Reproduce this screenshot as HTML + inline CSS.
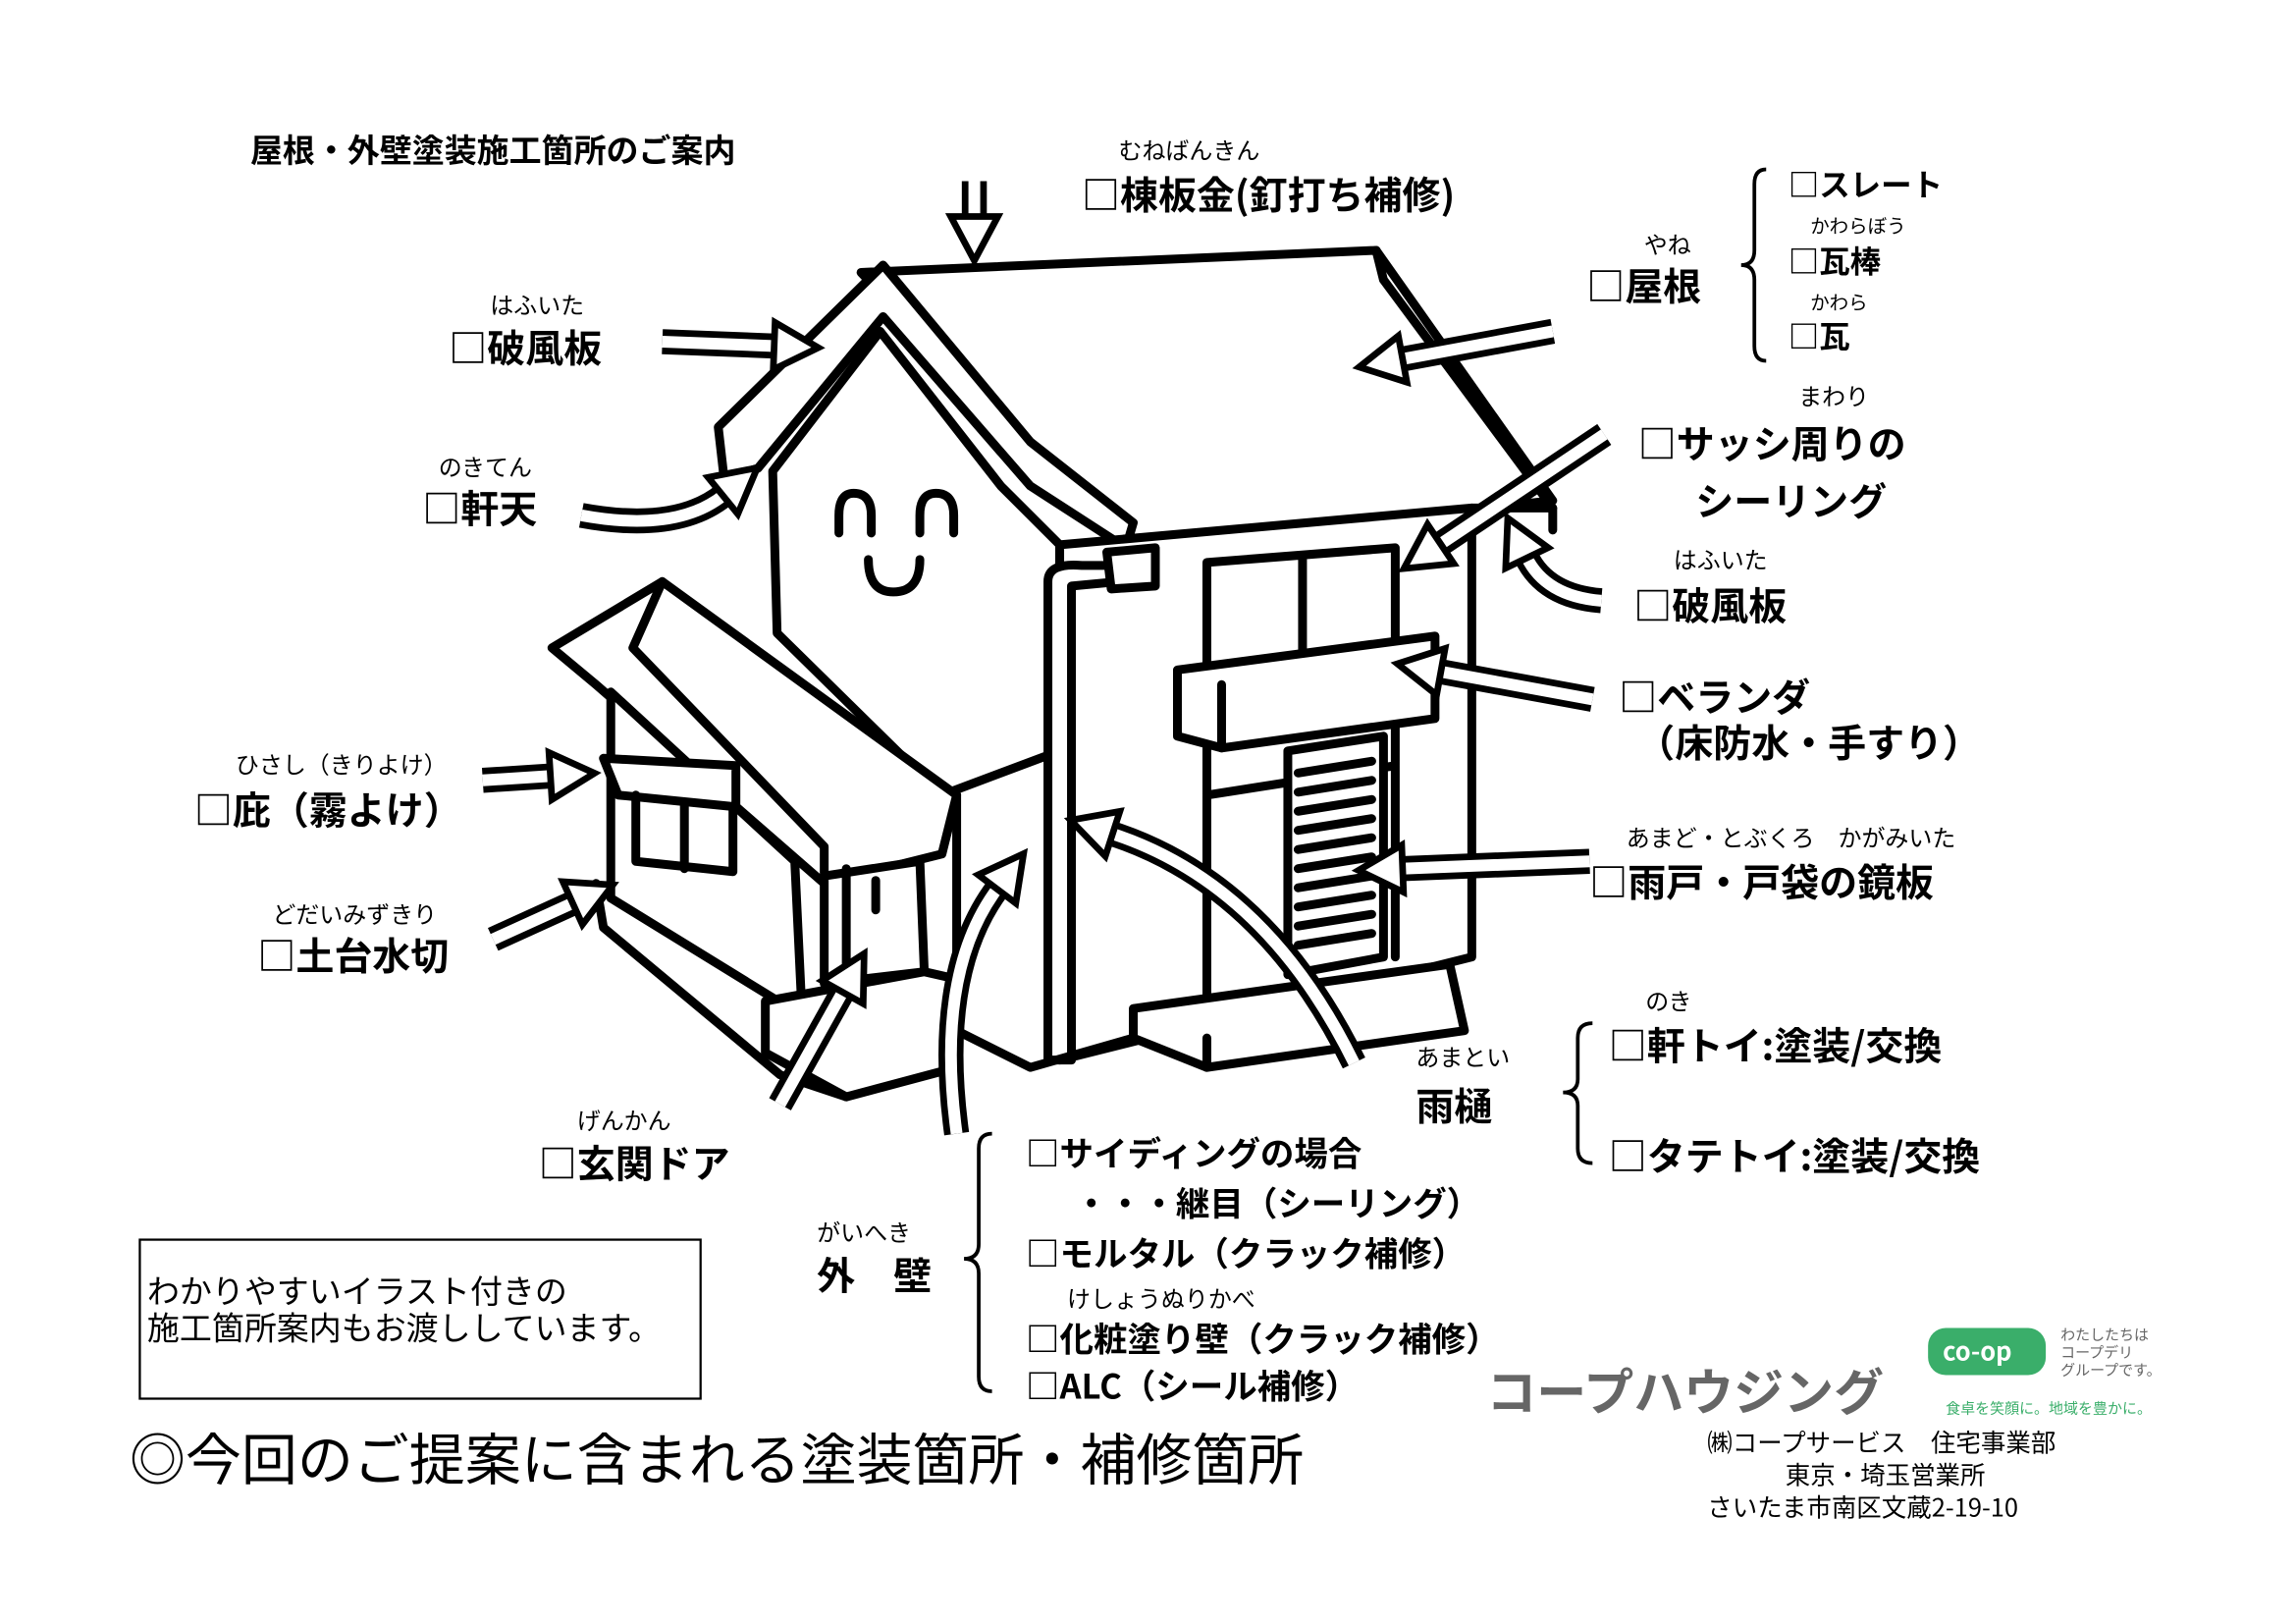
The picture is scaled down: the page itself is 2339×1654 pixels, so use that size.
<!DOCTYPE html>
<html><head><meta charset="utf-8"><style>
html,body{margin:0;padding:0;background:#fff}
svg{display:block}
text{font-family:"Noto Sans CJK JP","Liberation Sans",sans-serif;fill:#000}
.b{font-weight:bold;font-size:26px}
.r{font-size:16px}
.h{fill:none;stroke:#000;stroke-width:6;stroke-linejoin:round;stroke-linecap:round}
.hf{fill:#fff;stroke:#000;stroke-width:6;stroke-linejoin:round}
.ao{fill:none;stroke:#000;stroke-width:17;stroke-linecap:butt}
.ai{fill:none;stroke:#fff;stroke-width:8;stroke-linecap:butt}
.br{fill:none;stroke:#000;stroke-width:2.5}
</style></head><body>
<svg width="2339" height="1654" viewBox="0 0 1560 1103" xmlns="http://www.w3.org/2000/svg">
<defs>
<marker id="m" markerUnits="userSpaceOnUse" markerWidth="40" markerHeight="40" refX="1" refY="18" orient="auto" overflow="visible">
<path d="M0,2 L30,18 L0,34 Z" fill="#fff" stroke="#000" stroke-width="4.5" stroke-linejoin="miter"/>
</marker>
</defs>
<rect width="1560" height="1103" fill="#fff"/>

<!-- house -->
<path class="hf" d="M585,185 L935,170 L1055,340 L765,372 Z"/>
<path class="h" d="M935,170 L940,190 L1055,345"/>
<path class="hf" d="M600,180 L488,290 L492,325 L515,318 L600,215 L700,330 L765,372 L770,355 L700,300 Z"/>
<path class="hf" d="M598,225 L525,320 L528,430 L640,540 L720,510 L720,370 L680,330 Z"/>
<path class="hf" d="M720,370 L1000,345 L1000,650 L720,720 Z"/>
<path class="h" d="M1000,345 L1055,345 L1055,360"/>
<path class="h" d="M820,382 L948,372 L948,650 M820,382 L820,690 M885,378 L885,450 M820,540 L948,520"/>
<path class="hf" d="M800,455 L975,432 L975,488 L830,508 L800,500 Z"/>
<path class="h" d="M830,465 L830,508"/>
<path class="hf" d="M875,510 L940,500 L940,650 L875,662 Z"/>
<path class="h" d="M882,525 L932,517 M882,538 L932,530 M882,551 L932,543 M882,564 L932,556 M882,577 L932,569 M882,590 L932,582 M882,603 L932,595 M882,616 L932,608 M882,629 L932,621 M882,642 L932,634"/>
<path class="hf" d="M770,685 L985,655 L995,700 L820,725 L770,705 Z"/>
<path class="h" d="M820,705 L820,725"/>
<path class="hf" d="M712,720 L712,395 Q712,382 735,384 L760,384 L760,395 L728,398 L728,720 Z"/>
<path class="hf" d="M752,375 L785,372 L785,398 L755,400 Z"/>
<!-- annex -->
<path class="hf" d="M375,440 L450,395 L650,540 L640,580 L560,600 L405,465 Z"/>
<path class="h" d="M450,395 L430,440 L560,575 M560,575 L560,600"/>
<path class="hf" d="M415,470 L540,585 L545,690 L415,610 Z"/>
<path class="hf" d="M410,515 L500,520 L500,548 L420,540 Z"/>
<path class="h" d="M432,540 L432,585 L498,592 L498,548 M465,545 L465,590"/>
<path class="hf" d="M560,595 L625,585 L628,660 L560,668 Z"/>
<path class="h" d="M575,590 L575,668 M595,598 L595,618"/>
<path class="hf" d="M520,680 L628,660 L650,665 L650,725 L575,745 L520,715 Z"/>
<path class="h" d="M405,600 L410,630 L530,730 L575,745"/>
<path class="h" d="M650,540 L650,700 L700,725 L770,705"/>
<!-- face -->
<path class="h" d="M570,362 L570,350 Q570,335 580,335 Q592,335 592,350 L592,362"/>
<path class="h" d="M625,362 L625,350 Q625,335 636,335 Q648,335 648,350 L648,362"/>
<path class="h" d="M590,380 Q590,402 607,402 Q625,402 625,380"/>

<!-- arrows -->
<path class="ao" d="M662,123 L662,148"/><path class="ai" d="M662,123 L662,148" marker-end="url(#m)"/>
<path class="ao" d="M450,232 L527,235"/><path class="ai" d="M450,232 L527,235" marker-end="url(#m)"/>
<path class="ao" d="M1055,225 L952,244"/><path class="ai" d="M1055,225 L952,244" marker-end="url(#m)"/>
<path class="ao" d="M395,350 Q460,362 492,336"/><path class="ai" d="M395,350 Q460,362 492,336" marker-end="url(#m)"/>
<path class="ao" d="M1090,295 L978,370"/><path class="ai" d="M1090,295 L978,370" marker-end="url(#m)"/>
<path class="ao" d="M1088,408 Q1050,405 1037,378"/><path class="ai" d="M1088,408 Q1050,405 1037,378" marker-end="url(#m)"/>
<path class="ao" d="M1082,475 L978,456"/><path class="ai" d="M1082,475 L978,456" marker-end="url(#m)"/>
<path class="ao" d="M1080,585 L952,590"/><path class="ai" d="M1080,585 L952,590" marker-end="url(#m)"/>
<path class="ao" d="M328,530 L375,527"/><path class="ai" d="M328,530 L375,527" marker-end="url(#m)"/>
<path class="ao" d="M335,638 L390,613"/><path class="ai" d="M335,638 L390,613" marker-end="url(#m)"/>
<path class="ao" d="M530,750 L573,673"/><path class="ai" d="M530,750 L573,673" marker-end="url(#m)"/>
<path class="ao" d="M650,770 Q635,660 678,603"/><path class="ai" d="M650,770 Q635,660 678,603" marker-end="url(#m)"/>
<path class="ao" d="M920,722 Q860,600 755,566"/><path class="ai" d="M920,722 Q860,600 755,566" marker-end="url(#m)"/>

<!-- braces -->
<path class="br" d="M1200,115 Q1192,115 1192,125 L1192,170 Q1192,180 1183,180 Q1192,180 1192,190 L1192,235 Q1192,245 1200,245"/>
<path class="br" d="M1082,695 Q1072,695 1072,705 L1072,733 Q1072,742 1062,742 Q1072,742 1072,751 L1072,780 Q1072,790 1082,790"/>
<path class="br" d="M674,770 Q665,770 665,780 L665,845 Q665,855 655,855 Q665,855 665,865 L665,935 Q665,945 674,945"/>

<!-- text -->
<text x="170" y="110" style="font-size:22px;font-weight:bold">屋根・外壁塗装施工箇所のご案内</text>
<text x="760" y="108" class="r">むねばんきん</text>
<text x="735" y="142" class="b">□棟板金(釘打ち補修)</text>
<text x="1117" y="172" class="r">やね</text>
<text x="1078" y="204" class="b">□屋根</text>
<text x="1215" y="133" style="font-size:21px;font-weight:bold">□スレート</text>
<text x="1230" y="158" style="font-size:13px">かわらぼう</text>
<text x="1215" y="185" style="font-size:21px;font-weight:bold">□瓦棒</text>
<text x="1230" y="210" style="font-size:13px">かわら</text>
<text x="1215" y="236" style="font-size:21px;font-weight:bold">□瓦</text>
<text x="333" y="213" class="r">はふいた</text>
<text x="305" y="246" class="b">□破風板</text>
<text x="298" y="323" class="r">のきてん</text>
<text x="287" y="355" class="b">□軒天</text>
<text x="1222" y="275" class="r">まわり</text>
<text x="1113" y="311" class="b">□サッシ周りの</text>
<text x="1152" y="350" class="b">シーリング</text>
<text x="1137" y="386" class="r">はふいた</text>
<text x="1110" y="421" class="b">□破風板</text>
<text x="1100" y="483" class="b">□ベランダ</text>
<text x="1112" y="514" class="b">（床防水・手すり）</text>
<text x="1105" y="575" class="r">あまど・とぶくろ　かがみいた</text>
<text x="1080" y="609" class="b">□雨戸・戸袋の鏡板</text>
<text x="160" y="525" class="r">ひさし（きりよけ）</text>
<text x="132" y="560" class="b">□庇（霧よけ）</text>
<text x="185" y="627" class="r">どだいみずきり</text>
<text x="175" y="659" class="b">□土台水切</text>
<text x="1118" y="686" class="r">のき</text>
<text x="1093" y="720" class="b">□軒トイ:塗装/交換</text>
<text x="962" y="724" class="r">あまとい</text>
<text x="962" y="761" class="b">雨樋</text>
<text x="1093" y="795" class="b">□タテトイ:塗装/交換</text>
<text x="392" y="767" class="r">げんかん</text>
<text x="366" y="800" class="b">□玄関ドア</text>
<text x="697" y="792" style="font-size:23px;font-weight:bold">□サイディングの場合</text>
<text x="730" y="826" style="font-size:23px;font-weight:bold">・・・継目（シーリング）</text>
<text x="555" y="843" class="r">がいへき</text>
<text x="555" y="876" class="b">外　壁</text>
<text x="697" y="860" style="font-size:23px;font-weight:bold">□モルタル（クラック補修）</text>
<text x="725" y="888" class="r">けしょうぬりかべ</text>
<text x="697" y="918" style="font-size:23px;font-weight:bold">□化粧塗り壁（クラック補修）</text>
<text x="697" y="950" style="font-size:23px;font-weight:bold">□ALC（シール補修）</text>

<rect x="95" y="842" width="381" height="108" fill="none" stroke="#000" stroke-width="1.5"/>
<text x="100" y="885" style="font-size:22px">わかりやすいイラスト付きの</text>
<text x="100" y="910" style="font-size:22px">施工箇所案内もお渡ししています。</text>
<text x="88" y="1005" style="font-size:38px">◎今回のご提案に含まれる塗装箇所・補修箇所</text>

<text x="1010" y="958" style="font-size:34px;font-weight:bold;fill:#666">コープハウジング</text>
<rect x="1310" y="902" width="80" height="32" rx="12" fill="#3aae6a"/>
<text x="1320" y="924" style="font-size:17px;font-weight:bold;fill:#fff">co-op</text>
<text x="1400" y="910" style="font-size:10px;fill:#666">わたしたちは</text>
<text x="1400" y="922" style="font-size:10px;fill:#666">コープデリ</text>
<text x="1400" y="934" style="font-size:10px;fill:#666">グループです。</text>
<text x="1322" y="960" style="font-size:10px;fill:#3aae6a">食卓を笑顔に。地域を豊かに。</text>
<text x="1160" y="986" style="font-size:17px">㈱コープサービス　住宅事業部</text>
<text x="1213" y="1008" style="font-size:17px">東京・埼玉営業所</text>
<text x="1160" y="1030" style="font-size:17px">さいたま市南区文蔵2-19-10</text>
</svg>
</body></html>
